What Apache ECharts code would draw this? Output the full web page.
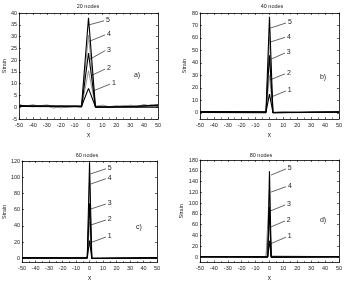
<!DOCTYPE html>
<html>
<head>
<meta charset="utf-8">
<script src="https://cdn.jsdelivr.net/npm/echarts@6/dist/echarts.min.js"></script>
<style>
    html, body { margin: 0; padding: 0; background: #fff; }
    #chart { width: 345px; height: 283px; }
</style>
</head>
<body>
<div id="chart"></div>
<script>
// panel titles and tick labels
const titles = ['20 nodes', '40 nodes', '60 nodes', '80 nodes']
const panelTags = ['a)', 'b)', 'c)', 'd)']
const xTicks = [-50, -40, -30, -20, -10, 0, 10, 20, 30, 40, 50]
const yTicksA = [-5, 0, 5, 10, 15, 20, 25, 30, 35, 40]
const yTicksB = [0, 10, 20, 30, 40, 50, 60, 70, 80]
const yTicksC = [0, 20, 40, 60, 80, 100, 120]
const yTicksD = [0, 20, 40, 60, 80, 100, 120, 140, 160, 180]
const yRanges = [[-5, 40], [-5, 80], [-5, 120], [-10, 180]]

// strain curves, load steps 1..5, [x, strain]
const strainA1 = [[-50, 0.6], [-30, 0.5], [-5, 0.4], [0, 8], [5, 0.2], [25, 0.3], [50, 0.6]]
const strainA2 = [[-50, 1], [-45, 0.4], [-40, 1.1], [-35, 0.2], [-30, 0.6], [-25, -0.4], [-20, 0.5], [-15, 0], [-10, 0.3], [-5, 0], [0, 15.5], [5, 0.3], [10, 0.9], [15, 0.2], [20, 0.7], [25, 0.1], [30, 0.9], [35, 0.3], [40, 1.2], [45, 0.4], [50, 0.9]]
const strainA3 = [[-50, 0.3], [-5, 0.2], [0, 23], [5, 0], [50, 0]]
const strainA4 = [[-50, 0.8], [-40, 0.2], [-30, 1], [-20, -0.3], [-10, 0.5], [-5, 0.1], [0, 30.5], [5, 0.6], [15, -0.2], [25, 0.8], [35, 0], [45, 0.9], [50, 0.3]]
const strainA5 = [[-50, 0.9], [-45, 0.5], [-5, 0.5], [0, 38], [5, 0], [30, 0.2], [45, 0.8], [50, 1]]

const strainB1 = [[-50, 0.5], [-2.5, 0.5], [0, 15], [2.5, 0.2], [50, 0.5]]
const strainB2 = [[-50, 1], [-40, 0.4], [-30, 0.9], [-20, 0.2], [-10, 0.8], [-5, 0.3], [-2.5, 0], [0, 30], [2.5, 0], [10, 0.8], [20, 0.3], [30, 0.9], [40, 0.4], [50, 1]]
const strainB3 = [[-50, 0.3], [-2.5, 0], [0, 46], [2.5, 0], [50, 0.4]]
const strainB4 = [[-50, 0.8], [-35, 0.3], [-20, 0.9], [-8, 0.2], [-2.5, 0.4], [0, 61], [2.5, 0.5], [12, 1], [25, 0.3], [40, 0.9], [50, 0.6]]
const strainB5 = [[-50, 1], [-2.5, 0.8], [0, 77], [2.5, 0], [50, 0.8]]

const strainC1 = [[-50, 0.5], [-1.67, 0.5], [0, 22], [1.67, 0.3], [50, 0.5]]
const strainC2 = [[-50, 1], [-5, 0.8], [-3.33, 0.5], [-1.67, 2], [0, 45], [1.67, 1], [3.33, 0.4], [50, 1]]
const strainC3 = [[-50, 0.3], [-1.67, 0.2], [0, 68], [1.67, 0], [50, 0.4]]
const strainC4 = [[-50, 0.6], [-3.33, 0.2], [-1.67, 3], [0, 93], [1.67, 1.5], [3.33, 0.2], [50, 0.7]]
const strainC5 = [[-50, 1], [-1.67, 0.8], [0, 118], [1.67, 0], [50, 1]]

const strainD1 = [[-50, 0.5], [-1.25, 0.5], [0, 30], [1.25, 0.3], [50, 0.5]]
const strainD2 = [[-50, 1], [-5, 0.8], [-2.5, 0.6], [-1.25, 2], [0, 62], [1.25, 1], [2.5, 0.4], [50, 1]]
const strainD3 = [[-50, 0.3], [-1.25, 0], [0, 93], [1.25, 0], [50, 0.4]]
const strainD4 = [[-50, 0.6], [-2.5, 0.4], [-1.25, 3], [0, 126], [1.25, 2], [2.5, 0.2], [50, 0.7]]
const strainD5 = [[-50, 1], [-1.25, 0.8], [0, 159], [1.25, 0], [50, 1]]

// leader lines for the step labels: [x1, y1, x2, y2], steps 1..5
const leadersA = [[3.7, 7, 15.5, 9.8], [1.8, 13.4, 12, 16.2], [1, 20.4, 12, 24], [0.6, 28, 11.9, 30.7], [0.6, 35, 11.2, 36.7]]
const leadersB = [[1.8, 12.9, 11.9, 17.5], [0.4, 26.4, 11.2, 31.2], [1.1, 43, 11.2, 47.9], [0.86, 56.8, 11.2, 60.5], [0.86, 68, 11.9, 72]]
const leadersC = [[0.6, 19.3, 12.1, 26.4], [0.6, 41, 12.1, 47.3], [0.6, 60.7, 12.1, 67], [0.6, 91.5, 12.1, 98.2], [0.6, 104, 12.1, 110.4]]
const leadersD = [[1.1, 25, 11.9, 37], [1.1, 56, 11.2, 67], [1.1, 86, 11.2, 96.6], [1.1, 120.5, 11.9, 130.6], [1.1, 152, 11.9, 163.5]]

const curves = [
    [strainA1, strainA2, strainA3, strainA4, strainA5],
    [strainB1, strainB2, strainB3, strainB4, strainB5],
    [strainC1, strainC2, strainC3, strainC4, strainC5],
    [strainD1, strainD2, strainD3, strainD4, strainD5]
]
const leaders = [leadersA, leadersB, leadersC, leadersD]
const yTicks = [yTicksA, yTicksB, yTicksC, yTicksD]

const FONT = 'Liberation Sans'
const grids = [
    { left: 17, top: 13, width: 141, height: 106 },
    { left: 200, top: 13, width: 139, height: 106 },
    { left: 18, top: 161, width: 139, height: 106 },
    { left: 200, top: 160, width: 139, height: 106 }
]
const nameGaps = [12, 12, 14, 12]
const titlePos = [[88, 6], [272, 6], [87, 155], [261, 155]]
const tagPos = [[137, 75], [323, 77], [139, 227], [323, 220]]
const lineColors = ['#000', '#8a8a8a', '#000', '#8a8a8a', '#000']

const xAxes = []
const yAxes = []
const series = []
const graphic = []

grids.forEach((g, i) => {
    const tick = { show: true, inside: true, length: 2, lineStyle: { color: '#000', width: 0.6 } }
    const axisLine = { show: true, onZero: false, lineStyle: { color: '#000', width: 0.8 } }
    const minor = { show: true, splitNumber: 2, length: 1.5, lineStyle: { color: '#000', width: 0.5 } }
    const xBase = { type: 'value', gridIndex: i, min: -50, max: 50, interval: 10, splitLine: { show: false }, axisLine: axisLine }
    xAxes.push(Object.assign({}, xBase, {
        position: 'bottom',
        axisTick: tick,
        minorTick: minor,
        axisLabel: { fontSize: 5.5, color: '#222', margin: 3, fontFamily: FONT, customValues: xTicks },
        name: 'x', nameLocation: 'middle', nameGap: 12.5,
        nameTextStyle: { fontSize: 6.5, color: '#222', fontFamily: FONT }
    }))
    xAxes.push(Object.assign({}, xBase, {
        position: 'top',
        axisTick: tick,
        minorTick: minor,
        axisLabel: { show: false }
    }))
    const yBase = {
        type: 'value', gridIndex: i, min: yRanges[i][0], max: yRanges[i][1],
        splitLine: { show: false }, axisLine: axisLine,
        axisTick: Object.assign({}, tick, { customValues: yTicks[i] })
    }
    yAxes.push(Object.assign({}, yBase, {
        position: 'left',
        axisLabel: { fontSize: 5.5, color: '#222', margin: 2, fontFamily: FONT, customValues: yTicks[i] },
        name: 'Strain', nameLocation: 'middle', nameGap: nameGaps[i],
        nameTextStyle: { fontSize: 5.5, color: '#222', fontFamily: FONT }
    }))
    yAxes.push(Object.assign({}, yBase, {
        position: 'right',
        axisLabel: { show: false }
    }))

    curves[i].forEach((data, k) => {
        const ld = leaders[i][k]
        series.push({
            type: 'line',
            xAxisIndex: i * 2,
            yAxisIndex: i * 2,
            data: data,
            showSymbol: false,
            silent: true,
            lineStyle: { color: lineColors[k], width: k % 2 === 0 ? 1.1 : 0.9 },
            z: k % 2 === 0 ? 3 : 2,
            markLine: {
                silent: true,
                symbol: ['none', 'none'],
                lineStyle: { color: '#000', width: 0.6, type: 'solid' },
                label: {
                    show: true, position: 'end', distance: 2,
                    formatter: String(k + 1), fontSize: 7, color: '#222', fontFamily: FONT
                },
                data: [[{ coord: [ld[0], ld[1]] }, { coord: [ld[2], ld[3]] }]]
            }
        })
    })

    graphic.push({
        type: 'text', x: titlePos[i][0], y: titlePos[i][1],
        style: { text: titles[i], fill: '#222', font: '5.5px ' + FONT, textAlign: 'center', textVerticalAlign: 'middle' }
    })
    graphic.push({
        type: 'text', x: tagPos[i][0], y: tagPos[i][1],
        style: { text: panelTags[i], fill: '#222', font: '7px ' + FONT, textAlign: 'center', textVerticalAlign: 'middle' }
    })
})

const chart = echarts.init(document.getElementById('chart'), null, { renderer: 'canvas' })
chart.setOption({
    animation: false,
    backgroundColor: '#fff',
    grid: grids,
    xAxis: xAxes,
    yAxis: yAxes,
    series: series,
    graphic: graphic
})
</script>
</body>
</html>
